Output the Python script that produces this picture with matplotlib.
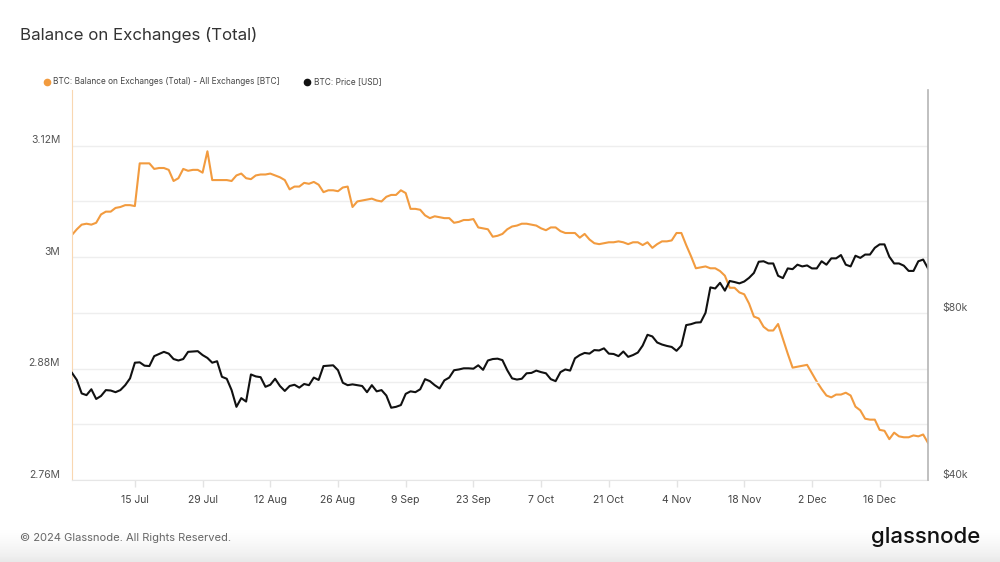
import matplotlib
matplotlib.use("Agg")
import matplotlib.pyplot as plt
import matplotlib.dates as mdates
from matplotlib.ticker import FixedLocator, FuncFormatter, NullFormatter
from matplotlib.transforms import ScaledTranslation
from matplotlib.lines import Line2D
import numpy as np
import pandas as pd

# ---------------- data ----------------
start_date = "2024-07-02"

# BTC balance on exchanges, millions of BTC (daily)
balance_m = [
    3.024, 3.030, 3.035, 3.036, 3.035, 3.037, 3.046, 3.049, 3.049, 3.053,
    3.054, 3.056, 3.056, 3.055, 3.101, 3.101, 3.101, 3.095, 3.096, 3.096,
    3.094, 3.082, 3.085, 3.095, 3.093, 3.094, 3.094, 3.091, 3.114, 3.083,
    3.083, 3.083, 3.083, 3.082, 3.088, 3.090, 3.085, 3.084, 3.088, 3.089,
    3.089, 3.090, 3.088, 3.086, 3.083, 3.073, 3.076, 3.076, 3.080, 3.079,
    3.081, 3.078, 3.070, 3.072, 3.072, 3.071, 3.075, 3.076, 3.054, 3.060,
    3.061, 3.062, 3.063, 3.061, 3.060, 3.065, 3.067, 3.067, 3.072, 3.069,
    3.052, 3.052, 3.051, 3.045, 3.042, 3.044, 3.043, 3.042, 3.042, 3.037,
    3.038, 3.040, 3.040, 3.041, 3.032, 3.031, 3.030, 3.022, 3.023, 3.025,
    3.030, 3.033, 3.034, 3.036, 3.036, 3.035, 3.034, 3.031, 3.029, 3.032,
    3.032, 3.028, 3.026, 3.026, 3.026, 3.021, 3.025, 3.019, 3.015, 3.014,
    3.015, 3.016, 3.016, 3.017, 3.016, 3.014, 3.016, 3.016, 3.013, 3.016,
    3.010, 3.014, 3.017, 3.017, 3.018, 3.026, 3.026, 3.013, 3.001, 2.988,
    2.989, 2.990, 2.988, 2.988, 2.985, 2.980, 2.967, 2.967, 2.962, 2.960,
    2.950, 2.936, 2.934, 2.925, 2.921, 2.921, 2.928, 2.912, 2.896, 2.881,
    2.882, 2.883, 2.884, 2.875, 2.866, 2.858, 2.851, 2.849, 2.852, 2.852,
    2.854, 2.851, 2.839, 2.835, 2.826, 2.825, 2.825, 2.814, 2.813, 2.804,
    2.811, 2.807, 2.806, 2.806, 2.808, 2.807, 2.809, 2.800,
]

# BTC price, thousands of USD (daily)
price_k = [
    62.4, 60.6, 57.3, 56.9, 58.3, 56.0, 56.7, 58.1, 58.0, 57.6,
    58.1, 59.3, 61.0, 65.1, 65.2, 64.3, 64.2, 66.9, 67.5, 68.1,
    67.6, 66.1, 65.7, 66.1, 68.1, 68.2, 68.3, 67.2, 66.4, 65.1,
    65.5, 61.4, 60.9, 58.1, 54.2, 56.2, 55.4, 62.0, 61.5, 61.3,
    58.9, 59.4, 60.9, 59.1, 57.9, 59.1, 59.4, 58.7, 59.6, 59.3,
    61.2, 60.6, 64.2, 64.3, 64.4, 63.1, 59.9, 59.3, 59.5, 59.3,
    59.1, 57.6, 59.3, 57.8, 58.1, 56.8, 54.0, 54.2, 54.6, 57.2,
    57.8, 57.6, 58.3, 60.8, 60.3, 59.3, 58.5, 60.5, 61.2, 63.1,
    63.3, 63.6, 63.6, 63.5, 64.4, 63.2, 65.7, 66.1, 66.2, 65.8,
    63.1, 61.0, 60.7, 60.9, 62.3, 62.4, 63.0, 62.6, 62.3, 60.8,
    60.3, 62.6, 63.3, 63.0, 66.3, 67.2, 67.8, 67.6, 68.6, 68.5,
    69.1, 67.6, 67.5, 66.9, 68.2, 66.7, 67.2, 67.9, 69.9, 73.1,
    72.6, 70.8, 70.2, 69.8, 69.5, 68.4, 69.9, 76.1, 76.4, 76.9,
    77.0, 80.1, 89.0, 88.6, 90.7, 87.8, 91.4, 91.0, 90.5, 91.2,
    92.6, 94.5, 99.0, 99.2, 98.3, 98.3, 93.4, 92.5, 96.3, 96.0,
    97.8, 97.1, 97.5, 96.3, 96.3, 99.2, 97.8, 100.4, 100.4, 101.8,
    97.8, 97.1, 101.5, 100.6, 102.0, 102.0, 104.9, 106.4, 106.4, 101.1,
    98.3, 98.3, 97.4, 95.3, 95.3, 99.2, 99.9, 96.3,
]

left_ticks = [2.76, 2.88, 3.0, 3.12]
left_minor = [2.82, 2.94, 3.06]
right_ticks = [40000, 80000]
right_tick_labels = ["$40k", "$80k"]
right_minor = [60000]
x_tick_dates = ["2024-07-15", "2024-07-29", "2024-08-12", "2024-08-26", "2024-09-09",
                "2024-09-23", "2024-10-07", "2024-10-21", "2024-11-04", "2024-11-18",
                "2024-12-02", "2024-12-16"]
x_tick_labels = ["15 Jul", "29 Jul", "12 Aug", "26 Aug", "9 Sep", "23 Sep",
                 "7 Oct", "21 Oct", "4 Nov", "18 Nov", "2 Dec", "16 Dec"]

title = "Balance on Exchanges (Total)"
label_balance = "BTC: Balance on Exchanges (Total) - All Exchanges [BTC]"
label_price = "BTC: Price [USD]"

# ---------------- style ----------------
plt.rcParams["font.family"] = ["Inter", "DejaVu Sans"]
ORANGE = "#F29B3F"
BLACK = "#111111"
GRID = "#EEEEEE"
TXT = "#555555"

W, H = 1000, 562
fig = plt.figure(figsize=(W / 100, H / 100), dpi=100)
fig.patch.set_facecolor("white")

# bottom grey fade
bg = fig.add_axes([0, 0, 1, 34 / H], zorder=-10)
grad = np.linspace(0, 1, 64)[:, None] ** 1.4
bg.imshow(grad, aspect="auto", cmap="Greys", vmin=0, vmax=6, extent=[0, 1, 0, 1], origin="upper")
bg.set_axis_off()

dates = pd.date_range(start_date, periods=len(balance_m), freq="D")

L, R, T, B = 72, 928, 90, 480
ax = fig.add_axes([L / W, 1 - B / H, (R - L) / W, (B - T) / H])
ax2 = ax.twinx()

ax.plot(dates, balance_m, color=ORANGE, lw=1.5, solid_joinstyle="round")
ax2.plot(dates, np.array(price_k) * 1000, color=BLACK, lw=1.5, solid_joinstyle="round")

ax.set_xlim(dates[0], dates[-1])
ax.set_ylim(2.76, 3.18)
ax2.set_yscale("log")
ax2.set_ylim(40000, 202000)

# left axis
ax.yaxis.set_major_locator(FixedLocator(left_ticks))
ax.yaxis.set_minor_locator(FixedLocator(left_minor))
ax.yaxis.set_major_formatter(FuncFormatter(lambda v, p: f"{v:g}M"))
ax.yaxis.set_minor_formatter(NullFormatter())
ax.grid(True, which="both", axis="y", color=GRID, lw=1.0)
ax.tick_params(axis="y", which="both", length=0, pad=8.5, labelsize=7.5, labelcolor=TXT)

# right axis
ax2.yaxis.set_major_locator(FixedLocator(right_ticks))
ax2.yaxis.set_minor_locator(FixedLocator(right_minor))
ax2.set_yticklabels(right_tick_labels)
ax2.yaxis.set_minor_formatter(NullFormatter())
ax2.grid(True, which="minor", axis="y", color=GRID, lw=1.0)
ax2.tick_params(axis="y", which="both", length=0, pad=10, labelsize=7.5, labelcolor=TXT)

# raise y labels a bit above their gridline
shift = ScaledTranslation(0, 4.5 / 72, fig.dpi_scale_trans)
for lab in ax.get_yticklabels() + ax2.get_yticklabels():
    lab.set_transform(lab.get_transform() + shift)

# x axis
ax.set_xticks(pd.to_datetime(x_tick_dates))
ax.set_xticklabels(x_tick_labels)
ax.tick_params(axis="x", length=5, color="#E3E3E3", width=1, pad=6, labelsize=7.5, labelcolor="#444444")

for a in (ax, ax2):
    a.spines["top"].set_visible(False)
ax.spines["left"].set_color("#F9D7B1")
ax.spines["bottom"].set_color("#E6E6E6")
ax.spines["right"].set_visible(False)
ax2.spines["left"].set_visible(False)
ax2.spines["bottom"].set_visible(False)
ax2.spines["right"].set_color("#B5B5B5")
ax2.spines["right"].set_linewidth(1.2)

# title
fig.text(20 / W, 1 - 35 / H, title, fontsize=12.2, color="#333333", va="center", ha="left")

# legend
ly = 1 - 82 / H
fig.add_artist(Line2D([47 / W], [ly], marker="o", ms=4.5, color=ORANGE, transform=fig.transFigure))
fig.text(53 / W, ly, label_balance, fontsize=6.0, color="#444444", va="center", ha="left")
fig.add_artist(Line2D([307 / W], [ly], marker="o", ms=4.5, color=BLACK, transform=fig.transFigure))
fig.text(314 / W, ly, label_price, fontsize=6.0, color="#444444", va="center", ha="left")

# footer
fig.text(20 / W, 1 - 538 / H, "© 2024 Glassnode. All Rights Reserved.", fontsize=8, color="#666666",
         va="center", ha="left")
fig.text(980 / W, 1 - 537 / H, "glassnode", fontsize=16, color="#111111", va="center", ha="right",
         fontweight="medium")

fig.savefig("out.png", dpi=100)
